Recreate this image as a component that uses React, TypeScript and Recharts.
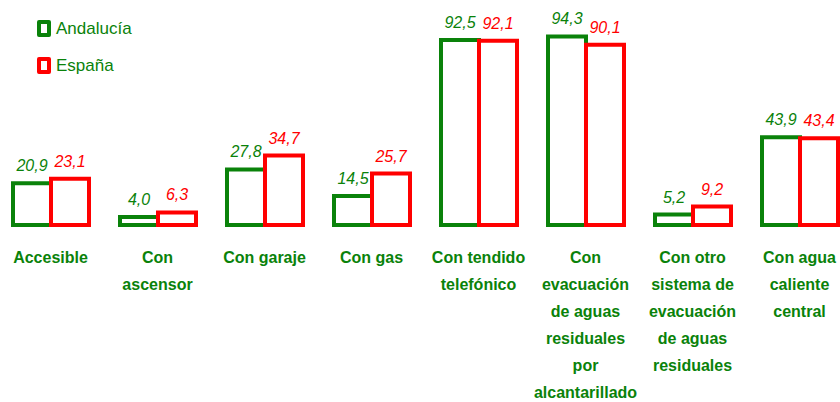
import { BarChart, Bar, XAxis, YAxis, LabelList } from 'recharts';

const CATEGORIES = [
  'Accesible',
  'Con\nascensor',
  'Con garaje',
  'Con gas',
  'Con tendido\ntelefónico',
  'Con\nevacuación\nde aguas\nresiduales\npor\nalcantarillado',
  'Con otro\nsistema de\nevacuación\nde aguas\nresiduales',
  'Con agua\ncaliente\ncentral',
];
const ANDALUCIA = [20.9, 4.0, 27.8, 14.5, 92.5, 94.3, 5.2, 43.9];
const ESPANA = [23.1, 6.3, 34.7, 25.7, 92.1, 90.1, 9.2, 43.4];

const GREEN = '#0a820a';
const RED = '#ff0000';
const FONT = '"Liberation Sans", Arial, sans-serif';

const data = CATEGORIES.map((name, i) => ({ name, andalucia: ANDALUCIA[i], espana: ESPANA[i] }));

function CategoryTick({ x, y, payload }: any) {
  const lines = String(payload.value).split('\n');
  return (
    <text x={x} y={y} textAnchor="middle" fill={GREEN} fontFamily={FONT} fontSize={16} fontWeight="bold">
      {lines.map((l, i) => (
        <tspan key={i} x={x} dy={i === 0 ? 38 : 27}>{l}</tspan>
      ))}
    </text>
  );
}

function valueLabel(color: string) {
  return (props: any) => {
    const { x, y, width, value } = props;
    return (
      <text x={x + width / 2} y={y - 12} textAnchor="middle" fill={color} fontFamily={FONT} fontSize={16} fontStyle="italic">
        {Number(value).toFixed(1).replace('.', ',')}
      </text>
    );
  };
}

function LegendBox() {
  const items = [
    { label: 'Andalucía', color: GREEN },
    { label: 'España', color: RED },
  ];
  return (
    <div style={{ position: 'absolute', left: 37, top: 10, fontFamily: FONT, fontSize: 17, color: GREEN }}>
      {items.map((it) => (
        <div key={it.label} style={{ display: 'flex', alignItems: 'center', height: 37 }}>
          <div style={{ width: 6, height: 9, border: `4px solid ${it.color}`, borderRadius: 2, marginRight: 5, background: '#fff' }} />
          <span>{it.label}</span>
        </div>
      ))}
    </div>
  );
}

export default function App() {
  return (
    <div style={{ position: 'fixed', left: 0, top: 0, width: 840, height: 402, overflow: 'hidden', background: '#fff' }}>
      <div style={{ position: 'absolute', left: -3, top: 0 }}>
        <BarChart width={856} height={402} data={data} margin={{ top: 25, right: 0, left: 0, bottom: 0 }} barGap={0} barSize={38}>
          <XAxis dataKey="name" axisLine={false} tickLine={false} tickSize={0} tickMargin={0} height={177} interval={0} tick={<CategoryTick />} />
          <YAxis hide domain={[0, 100]} />
          <Bar dataKey="andalucia" fill="#fff" stroke={GREEN} strokeWidth={4} isAnimationActive={false}>
            <LabelList dataKey="andalucia" content={valueLabel(GREEN)} />
          </Bar>
          <Bar dataKey="espana" fill="#fff" stroke={RED} strokeWidth={4} isAnimationActive={false}>
            <LabelList dataKey="espana" content={valueLabel(RED)} />
          </Bar>
        </BarChart>
      </div>
      <LegendBox />
    </div>
  );
}
